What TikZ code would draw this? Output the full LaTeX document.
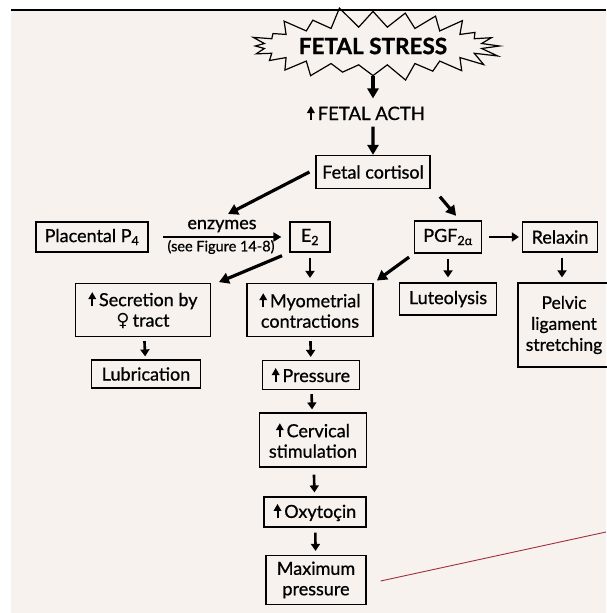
\documentclass[tikz,border=0pt]{standalone}
\usepackage{fontspec}
\setmainfont{Lato}[FakeBold=1]
\newfontfamily\heavy{Lato}[FakeBold=0.8]
\newfontfamily\symfont{DejaVu Sans}
\usetikzlibrary{arrows.meta,shapes.symbols}

\definecolor{paper}{HTML}{F8F2EE}
\definecolor{redline}{HTML}{A0303C}

\newcommand{\uparr}{\tikz[baseline,x=1pt,y=1pt]\draw[line width=2pt,-{Triangle[length=7pt,width=7.5pt]}] (0,0) -- (0,14);\,}

\tikzset{
  box/.style={draw, line width=1.2pt, align=center, inner sep=2pt, font=\fontsize{18}{20.5}\selectfont\heavy},
  bigarr/.style={line width=3.2pt, -{Triangle[length=10pt,width=11pt]}},
  smallarr/.style={line width=2.6pt, -{Triangle[length=7pt,width=9pt]}}
}

\begin{document}
\begin{tikzpicture}[x=1pt,y=-1pt]
                \useasboundingbox (0,0) rectangle (606,613);
                % paper and top rule
                \fill [white] (0,0) rectangle (606,613);
                \fill [paper] (11,10) rectangle (606,613);
                \draw [line width=2pt] (11,10) -- (606,10);

                % Marking the stress burst
                \node [starburst, draw, line width=1.2pt, starburst points=24, starburst point height=21pt,
                       random starburst=11, minimum width=218pt, minimum height=80pt,
                       font=\fontsize{22.5}{24}\selectfont\bfseries] (stress) at (373,46) {FETAL STRESS};

                % Marking ACTH
                \node [font=\fontsize{18.5}{20}\selectfont\heavy] (acth) at (366,113) {\uparr FETAL ACTH};

                % Marking the boxes
                \node [box, minimum width=114pt, minimum height=33pt] (cortisol) at (373,172) {Fetal cortisol};
                \node [box, minimum width=112pt, minimum height=30pt] (ptfour) at (92,237) {Placental P\textsubscript{4}};
                \node [box, minimum width=40pt, minimum height=30pt] (etwo) at (310,237) {E\textsubscript{2}};
                \node [box, minimum width=67pt, minimum height=32pt] (pgf) at (448,237) {PGF\textsubscript{2α}};
                \node [box, minimum width=75pt, minimum height=30pt] (relaxin) at (560,237) {Relaxin};
                \node [box, minimum width=135pt, minimum height=53pt] (secretion) at (143,310) {\uparr Secretion by\\{\symfont ♀}\,tract};
                \node [box, minimum width=126pt, minimum height=53pt] (myo) at (310,310) {\uparr Myometrial\\contractions};
                \node [box, minimum width=97pt, minimum height=32pt] (luteo) at (448,299) {Luteolysis};
                \node [box, minimum width=92pt, minimum height=84pt, font=\fontsize{17.5}{21}\selectfont\heavy] (pelvic) at (564,325) {Pelvic\\ligament\\stretching};
                \node [box, minimum width=109pt, minimum height=28pt] (lubric) at (146,374) {Lubrication};
                \node [box, minimum width=97pt, minimum height=29pt] (press) at (311,375) {\uparr Pressure};
                \node [box, minimum width=107pt, minimum height=54pt] (cervical) at (313,440) {\uparr Cervical\\stimulation};
                \node [box, minimum width=102pt, minimum height=30pt] (oxy) at (315,512) {\uparr Oxytoçin};
                \node [box, minimum width=100pt, minimum height=49pt] (maxpress) at (316,580) {Maximum\\pressure};

                % Marking the enzymes labels
                \node [font=\fontsize{18}{20}\selectfont\heavy] (enz) at (222,226) {enzymes};
                \node [font=\fontsize{14.5}{16}\selectfont\heavy] (seefig) at (221,247) {(see Figure 14-8)};
                \coordinate (enztip) at (228,214);
                \coordinate (redend) at (606,532);

                % Drawing the arrows
                \draw [bigarr, shorten >=3pt] (stress.south) -- (stress.south |- acth.north);
                \draw [bigarr, shorten <=2pt] (stress.south |- acth.south) -- (cortisol);
                \draw [bigarr] ([xshift=-6pt]cortisol.west) -- (enztip);
                \draw [bigarr, shorten <=2pt, shorten >=6pt] ([xshift=8pt,yshift=-6pt]cortisol.south east) -- ([xshift=12pt]pgf.north);
                \draw [line width=2pt, -{Triangle[length=8pt,width=9pt]}] ([xshift=14pt]ptfour.east) -- ([xshift=-8pt]etwo.west);
                \draw [bigarr, shorten <=8pt, shorten >=2pt] (etwo.south west) -- ([xshift=6pt]secretion.north east);
                \draw [bigarr, shorten <=6pt, shorten >=4pt] (pgf.south west) -- (myo.north east);
                \draw [smallarr, shorten <=7pt, shorten >=3pt] (pgf) -- (relaxin);
                \draw [smallarr, shorten <=5pt, shorten >=5pt] (etwo) -- (myo);
                \draw [smallarr, shorten <=5pt, shorten >=5pt] (pgf) -- (luteo);
                \draw [smallarr, shorten <=5pt, shorten >=5pt] ([xshift=2pt]relaxin.south) -- ([xshift=2pt]relaxin.south |- pelvic.north);
                \draw [smallarr, shorten <=4pt, shorten >=3pt] (secretion) -- (lubric);
                \draw [smallarr, shorten <=4pt, shorten >=3pt] (myo) -- (press);
                \draw [smallarr, shorten <=4pt, shorten >=3pt] (press) -- (cervical);
                \draw [smallarr, shorten <=7pt, shorten >=4pt] (cervical) -- (oxy);
                \draw [smallarr, shorten <=5pt, shorten >=4pt] (oxy) -- (maxpress);

                % Drawing the red line
                \draw [redline, line width=0.9pt] ([xshift=14pt,yshift=-1pt]maxpress.east) -- (redend);
\end{tikzpicture}
\end{document}
